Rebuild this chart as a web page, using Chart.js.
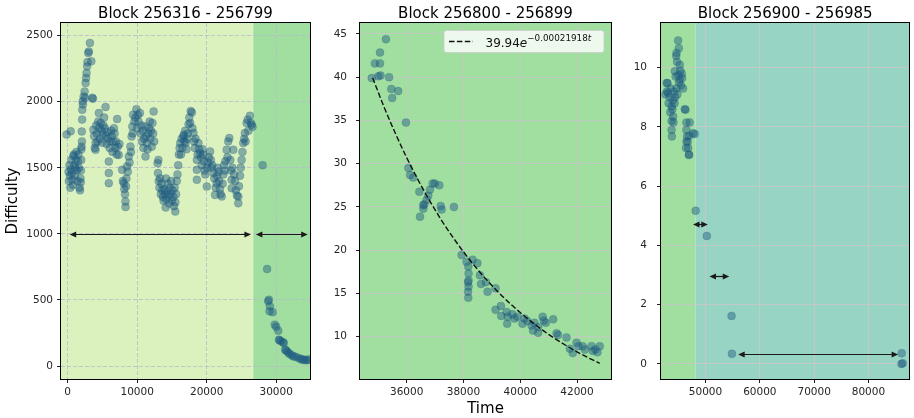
<!DOCTYPE html>
<html>
<head>
<meta charset="utf-8">
<script src="https://cdn.jsdelivr.net/npm/chart.js@4.4.0/dist/chart.umd.min.js"></script>
<style>
  body { margin: 0; background: #fff; }
  #wrap { position: relative; width: 914px; height: 418px; }
  canvas { position: absolute; top: 0; }
</style>
</head>
<body>
<div id="wrap">
  <canvas id="c1" width="320" height="418" style="left:0"></canvas>
  <canvas id="c2" width="300" height="418" style="left:320px"></canvas>
  <canvas id="c3" width="294" height="418" style="left:620px"></canvas>
</div>
<script>
// panel titles and axis labels
const titles = ['Block 256316 - 256799', 'Block 256800 - 256899', 'Block 256900 - 256985'];
const yLabel = 'Difficulty';
const xLabel = 'Time';

// block 256316 - 256799 : [time, difficulty]
const block1 = [
  [-150,1752],[430,1776],[120,1470],[170,1400],[250,1520],[320,1440],[380,1350],[460,1490],[520,1560],[600,1460],
  [670,1410],[760,1370],[820,1590],[900,1600],[960,1520],[1030,1440],[1100,1500],[1180,1560],[1250,1620],[1320,1480],
  [1400,1400],[1480,1550],[1550,1600],[1620,1500],[1700,1350],[1780,1330],[1840,1420],[1880,1390],[1900,1480],[1950,1560],
  [1960,1640],[2000,1660],[2030,1775],[2050,1700],[2080,1865],[2100,1940],[2150,2003],[2200,1980],[2300,2040],[2440,2078],
  [2500,2030],[2580,2142],[2650,2180],[2720,2217],[2800,2268],[2850,2300],[2960,2369],[3050,2380],[3200,2445],[3400,2306],
  [3630,2023],[3550,2030],[3700,1788],[3800,1740],[3900,1650],[4010,1687],[4010,1636],[4100,1820],[4200,1760],[4300,1700],
  [4400,1850],[4490,1914],[4550,1800],[4650,1720],[4750,1840],[4850,1780],[4950,1690],[5050,1750],[5150,1820],[5250,1880],
  [5350,1800],[5450,1960],[5500,1740],[5600,1680],[5700,1770],[5800,1720],[5920,1548],[5920,1460],[5920,1384],[6050,1650],
  [6150,1700],[6250,1780],[6350,1740],[6450,1620],[6550,1700],[6650,1800],[6750,1760],[6850,1650],[6950,1700],[7050,1600],
  [7120,1869],[7200,1660],[7350,1598],[7450,1680],[7840,1485],[7950,1400],[8070,1384],[8150,1340],[8250,1300],[8310,1245],
  [8330,1204],[8400,1360],[8450,1420],[8550,1510],[8650,1470],[8800,1586],[8900,1540],[9030,1661],[9100,1620],[9200,1737],
  [9300,1813],[9350,1760],[9410,1902],[9600,1850],[9750,1880],[9890,1944],[10000,1800],[10100,1900],[10200,1850],[10400,1914],
  [10500,1760],[10600,1820],[10700,1700],[10800,1780],[10900,1650],[11000,1720],[11180,1813],[11200,1586],[11300,1737],[11400,1687],
  [11500,1640],[11600,1760],[11700,1800],[11800,1850],[11900,1720],[12000,1780],[12100,1660],[12200,1840],[12370,1927],[12300,1760],
  [12450,1700],[12940,1535],[13050,1560],[13000,1460],[13100,1400],[13200,1350],[13300,1420],[13400,1300],[13500,1380],[13600,1330],
  [13700,1280],[13800,1250],[13900,1340],[14000,1300],[14100,1200],[14150,1420],[14200,1260],[14300,1320],[14400,1380],[14500,1290],
  [14600,1230],[14700,1350],[14800,1300],[14900,1400],[15000,1250],[15100,1330],[15200,1280],[15300,1210],[15400,1350],[15480,1169],
  [15500,1240],[15600,1300],[15700,1400],[15800,1450],[15900,1520],[16000,1600],[16100,1650],[16190,1687],[16300,1600],[16400,1720],
  [16500,1650],[16670,1737],[16700,1750],[16800,1700],[16900,1780],[17000,1690],[17100,1640],[17200,1720],[17300,1760],[17400,1830],
  [17500,1880],[17630,1839],[17700,1930],[17870,1919],[17950,1800],[18100,1763],[18200,1700],[18300,1650],[18400,1720],[18590,1560],
  [18590,1485],[18590,1409],[18700,1600],[18820,1687],[18900,1640],[19060,1611],[19200,1580],[19300,1520],[19400,1640],[19500,1600],
  [19600,1550],[19700,1480],[19800,1450],[20020,1358],[20100,1500],[20200,1540],[20300,1580],[20490,1624],[20600,1560],[20700,1500],
  [20800,1520],[20970,1460],[21100,1420],[21210,1295],[21300,1350],[21450,1384],[21500,1440],[21600,1500],[21700,1470],[21800,1400],
  [21900,1340],[22000,1300],[22170,1283],[22300,1380],[22400,1450],[22500,1520],[22600,1480],[22700,1550],[22880,1636],[23000,1580],
  [23100,1700],[23260,1725],[23400,1560],[23500,1480],[23600,1409],[23600,1346],[23700,1500],[23830,1636],[23950,1450],[24100,1400],
  [24200,1330],[24350,1290],[24550,1283],[24550,1232],[24650,1360],[24800,1440],[24900,1500],[25030,1560],[25150,1620],[25270,1687],
  [25400,1720],[25500,1763],[25600,1700],[25750,1839],[25900,1864],[26000,1780],[26220,1894],[26350,1840],[26470,1826],[26600,1810],
  [28050,1520],[28700,735],[28950,502],[28850,490],[29100,452],[29050,414],[29500,408],[29800,313],[30000,298],[30300,268],
  [30400,199],[30500,195],[30700,187],[31000,180],[31100,174],[31300,124],[31400,120],[31600,110],[31800,98],[32000,90],
  [32300,80],[32500,73],[32800,70],[33200,61],[33500,55],[33700,48],[34000,50],[34200,43],[34500,45],[34700,50]
];

// block 256800 - 256899 : [time, difficulty]
const block2 = [
  [34770,39.9],[34880,41.6],[35060,41.6],[35060,42.85],[35000,40.1],[35080,40.2],[35270,44.4],[35380,40.0],[35460,38.65],[35490,37.6],
  [35700,38.4],[35975,34.75],[36060,29.5],[36120,28.7],[36230,28.4],[36445,26.76],[36470,23.87],[36585,25.2],[36585,24.8],[36620,25.3],
  [36700,25.8],[36760,26.3],[36820,27.0],[36915,27.7],[36990,27.7],[37150,27.5],[37200,25.1],[37230,24.7],[37665,25.0],[37935,19.43],
  [38110,18.66],[38170,18.1],[38180,17.3],[38180,16.5],[38160,16.3],[38180,15.77],[38160,15.2],[38170,14.5],[38320,18.9],[38490,18.5],
  [38580,17.1],[38620,16.1],[38790,16.3],[38850,15.2],[39130,15.6],[39130,13.1],[39320,13.55],[39330,12.4],[39520,12.85],[39560,12.3],
  [39540,11.5],[39720,12.6],[39800,12.1],[39900,12.3],[40080,11.5],[40150,12.1],[40250,11.8],[40400,11.3],[40450,10.7],[40500,11.6],
  [40630,11.1],[40630,10.45],[40790,12.3],[40830,11.85],[40900,11.6],[41160,12.0],[41280,10.4],[41330,10.2],[41630,9.9],[41750,8.6],
  [41850,8.1],[41985,9.3],[42050,8.9],[42200,8.9],[42280,8.5],[42510,8.9],[42560,8.35],[42650,8.5],[42800,8.9],[42720,8.2]
];

// exponential fit shown in the middle panel
const fitTime  = [34800,35200,35600,36000,36400,36800,37200,37600,38000,38400,38800,39200,39600,40000,40400,40800,41200,41600,42000,42400,42800];
const fitValue = [39.94,36.59,33.52,30.70,28.13,25.77,23.60,21.62,19.81,18.15,16.62,15.23,13.95,12.78,11.71,10.72,9.82,9.00,8.24,7.55,6.92];

// block 256900 - 256985 : [time, difficulty]
const block3 = [
  [42840,9.48],[43000,9.48],[42900,9.2],[42600,9.1],[43100,9.15],[43200,8.8],[43400,9.0],[43750,8.7],[43900,8.6],[43500,8.5],
  [44040,8.35],[43750,8.2],[44100,8.15],[43750,7.9],[43800,7.68],[44350,9.88],[44500,9.7],[44660,10.5],[44600,10.4],[44750,10.2],
  [44660,9.3],[44400,9.0],[44200,9.2],[44950,10.92],[45080,10.66],[45260,10.1],[45350,9.9],[45000,9.75],[45620,9.8],[45700,9.65],
  [45260,9.6],[45500,9.4],[45860,9.3],[45100,9.5],[44800,9.1],[44300,8.8],[44000,8.9],[43600,9.3],[46180,8.6],[46300,8.58],
  [46480,8.15],[47090,8.15],[47690,7.79],[46480,7.9],[46600,7.68],[46500,7.51],[46400,7.29],[46800,7.29],[46940,7.06],[46960,7.06],
  [46700,7.5],[47000,7.7],[48000,7.76],[48180,5.17],[50240,4.32],[54790,1.62],[54860,0.34],[86120,0.36],[86070,0.0],[86300,0.02]
];

// tick values
const p1XTicks = [0, 10000, 20000, 30000];
const p1YTicks = [0, 500, 1000, 1500, 2000, 2500];
const p2XTicks = [36000, 38000, 40000, 42000];
const p2YTicks = [10, 15, 20, 25, 30, 35, 40, 45];
const p3XTicks = [50000, 60000, 70000, 80000];
const p3YTicks = [0, 2, 4, 6, 8, 10];

// regime boundaries (time) and interval arrows [from, to, level]
const p1Bands = [[-960, 26700], [26700, 34870]];
const p2Bands = [[34356, 43197]];
const p3Bands = [[41800, 48180], [48180, 87520]];
const p1Arrows = [[290, 26370, 1000], [27080, 34540, 1000]];
const p3Arrows = [[47690, 50420, 4.73], [50730, 54370, 2.96], [56010, 85460, 0.34]];

const FONT = 'DejaVu Sans';
const pts = arr => arr.map(([x, y]) => ({ x, y }));

const scatterStyle = {
  backgroundColor: 'rgba(30,92,128,0.46)',
  borderColor: 'rgba(30,92,128,0.3)',
  borderWidth: 0.7,
  pointRadius: 4,
  pointHoverRadius: 4
};

function drawArrow(ctx, x0, x1, y, head, hw) {
  ctx.beginPath();
  ctx.moveTo(x0 + head * 0.8, y);
  ctx.lineTo(x1 - head * 0.8, y);
  ctx.stroke();
  [[x0, 1], [x1, -1]].forEach(([px, d]) => {
    ctx.beginPath();
    ctx.moveTo(px, y);
    ctx.lineTo(px + d * head, y - hw);
    ctx.lineTo(px + d * head, y + hw);
    ctx.closePath();
    ctx.fill();
  });
}

const panelPlugin = {
  id: 'panel',
  beforeDraw(chart, args, opts) {
    const { ctx, chartArea: a, scales: { x } } = chart;
    ctx.save();
    opts.bands.forEach((b, i) => {
      const x0 = Math.max(a.left, x.getPixelForValue(b[0]));
      const x1 = Math.min(a.right, x.getPixelForValue(b[1]));
      ctx.fillStyle = opts.bandColors[i];
      ctx.fillRect(x0, a.top, x1 - x0, a.bottom - a.top);
    });
    ctx.restore();
  },
  afterDraw(chart, args, opts) {
    const { ctx, chartArea: a, scales: { x, y } } = chart;
    ctx.save();
    // arrows
    ctx.strokeStyle = '#1a1a1a';
    ctx.fillStyle = '#1a1a1a';
    ctx.lineWidth = 1.2;
    (opts.arrows || []).forEach(([t0, t1, v]) => {
      drawArrow(ctx, x.getPixelForValue(t0), x.getPixelForValue(t1), Math.round(y.getPixelForValue(v)) + 0.5, 6.5, 3);
    });
    // frame
    ctx.strokeStyle = '#000';
    ctx.lineWidth = 1;
    ctx.strokeRect(Math.round(a.left) - 0.5, Math.round(a.top) - 0.5, Math.round(a.right - a.left) + 1, Math.round(a.bottom - a.top) + 1);
    // title
    ctx.fillStyle = '#000';
    ctx.font = '15px ' + FONT;
    ctx.textAlign = 'center';
    ctx.textBaseline = 'alphabetic';
    ctx.fillText(opts.title, (a.left + a.right) / 2, 18);
    if (opts.yLabel) {
      ctx.save();
      ctx.translate(17, (a.top + a.bottom) / 2);
      ctx.rotate(-Math.PI / 2);
      ctx.fillText(opts.yLabel, 0, 0);
      ctx.restore();
    }
    if (opts.xLabel) {
      ctx.fillText(opts.xLabel, (a.left + a.right) / 2, 413);
    }
    if (opts.legend) {
      const w = 160, h = 22;
      const bx = a.right - 7 - w, by = a.top + 7.5;
      ctx.beginPath();
      ctx.roundRect(bx, by, w, h, 2.5);
      ctx.fillStyle = 'rgba(255,255,255,0.8)';
      ctx.fill();
      ctx.strokeStyle = 'rgba(204,204,204,0.8)';
      ctx.stroke();
      ctx.strokeStyle = '#111';
      ctx.lineWidth = 1.5;
      ctx.setLineDash([5.5, 2.4]);
      ctx.beginPath();
      ctx.moveTo(bx + 5, by + 11);
      ctx.lineTo(bx + 29, by + 11);
      ctx.stroke();
      ctx.setLineDash([]);
      ctx.fillStyle = '#111';
      ctx.textAlign = 'left';
      let tx = bx + 41.5;
      const base = by + 16;
      opts.legend.forEach(p => {
        ctx.font = (p.italic ? 'oblique ' : '') + p.size + 'px ' + FONT;
        ctx.fillText(p.text, tx, base - (p.rise || 0));
        tx += ctx.measureText(p.text).width;
      });
    }
    ctx.restore();
  }
};

function axis(min, max, ticks, dir, size, grid, pad) {
  return {
    type: 'linear',
    min, max,
    afterBuildTicks: s => { s.ticks = ticks.map(v => ({ value: v })); },
    afterFit: s => { if (dir === 'x') s.height = size; else s.width = size; },
    ticks: {
      callback: v => String(v),
      color: '#262626',
      font: { family: FONT, size: 10.5 },
      padding: pad,
      autoSkip: false,
      maxRotation: 0
    },
    grid: { color: grid.color, lineWidth: 1, tickLength: 4, tickColor: '#222', tickWidth: 1 },
    border: { display: false, dash: grid.dash }
  };
}

function makeChart(id, cfg) {
  return new Chart(document.getElementById(id), {
    type: 'scatter',
    data: { datasets: cfg.datasets },
    options: {
      responsive: false,
      animation: false,
      devicePixelRatio: 1,
      layout: { padding: cfg.padding },
      plugins: { legend: { display: false }, tooltip: { enabled: false }, panel: cfg.panel },
      scales: {
        x: axis(cfg.x[0], cfg.x[1], cfg.xTicks, 'x', 39, cfg.grid, 3),
        y: axis(cfg.y[0], cfg.y[1], cfg.yTicks, 'y', cfg.yWidth, cfg.grid, cfg.yPad)
      }
    },
    plugins: [panelPlugin]
  });
}

const dashedGrid = { color: 'rgba(185,185,205,0.8)', dash: [4, 2] };
const solidGrid = { color: 'rgba(200,200,200,0.85)', dash: [] };

makeChart('c1', {
  datasets: [{ data: pts(block1), ...scatterStyle }],
  padding: { left: 0, top: 23, right: 10, bottom: 0 },
  x: [-960, 34870], y: [-98, 2596],
  xTicks: p1XTicks, yTicks: p1YTicks,
  yWidth: 61, yPad: 4, grid: dashedGrid,
  panel: { title: titles[0], yLabel: yLabel, bands: p1Bands, bandColors: ['#dcf2be', '#a1dfa0'], arrows: p1Arrows }
});

makeChart('c2', {
  datasets: [
    { data: fitTime.map((t, i) => ({ x: t, y: fitValue[i] })), showLine: true, pointRadius: 0, borderColor: '#111',
      borderWidth: 1.4, borderDash: [5.5, 2.4], backgroundColor: '#111', cubicInterpolationMode: 'monotone' },
    { data: pts(block2), ...scatterStyle }
  ],
  padding: { left: 0, top: 23, right: 9, bottom: 0 },
  x: [34356, 43197], y: [5.1, 46.27],
  xTicks: p2XTicks, yTicks: p2YTicks,
  yWidth: 40, yPad: 9, grid: solidGrid,
  panel: {
    title: titles[1], xLabel: xLabel, bands: p2Bands, bandColors: ['#a1dfa0'],
    legend: [
      { text: '39.94', size: 12 },
      { text: 'e', size: 12, italic: true },
      { text: '\u22120.00021918', size: 8.8, rise: 5.5 },
      { text: 't', size: 8.8, italic: true, rise: 5.5 }
    ]
  }
});

makeChart('c3', {
  datasets: [{ data: pts(block3), ...scatterStyle }],
  padding: { left: 0, top: 23, right: 2, bottom: 0 },
  x: [41800, 87520], y: [-0.51, 11.51],
  xTicks: p3XTicks, yTicks: p3YTicks,
  yWidth: 41, yPad: 10, grid: solidGrid,
  panel: { title: titles[2], bands: p3Bands, bandColors: ['#a1dfa0', '#98d4c4'], arrows: p3Arrows }
});
</script>
</body>
</html>
